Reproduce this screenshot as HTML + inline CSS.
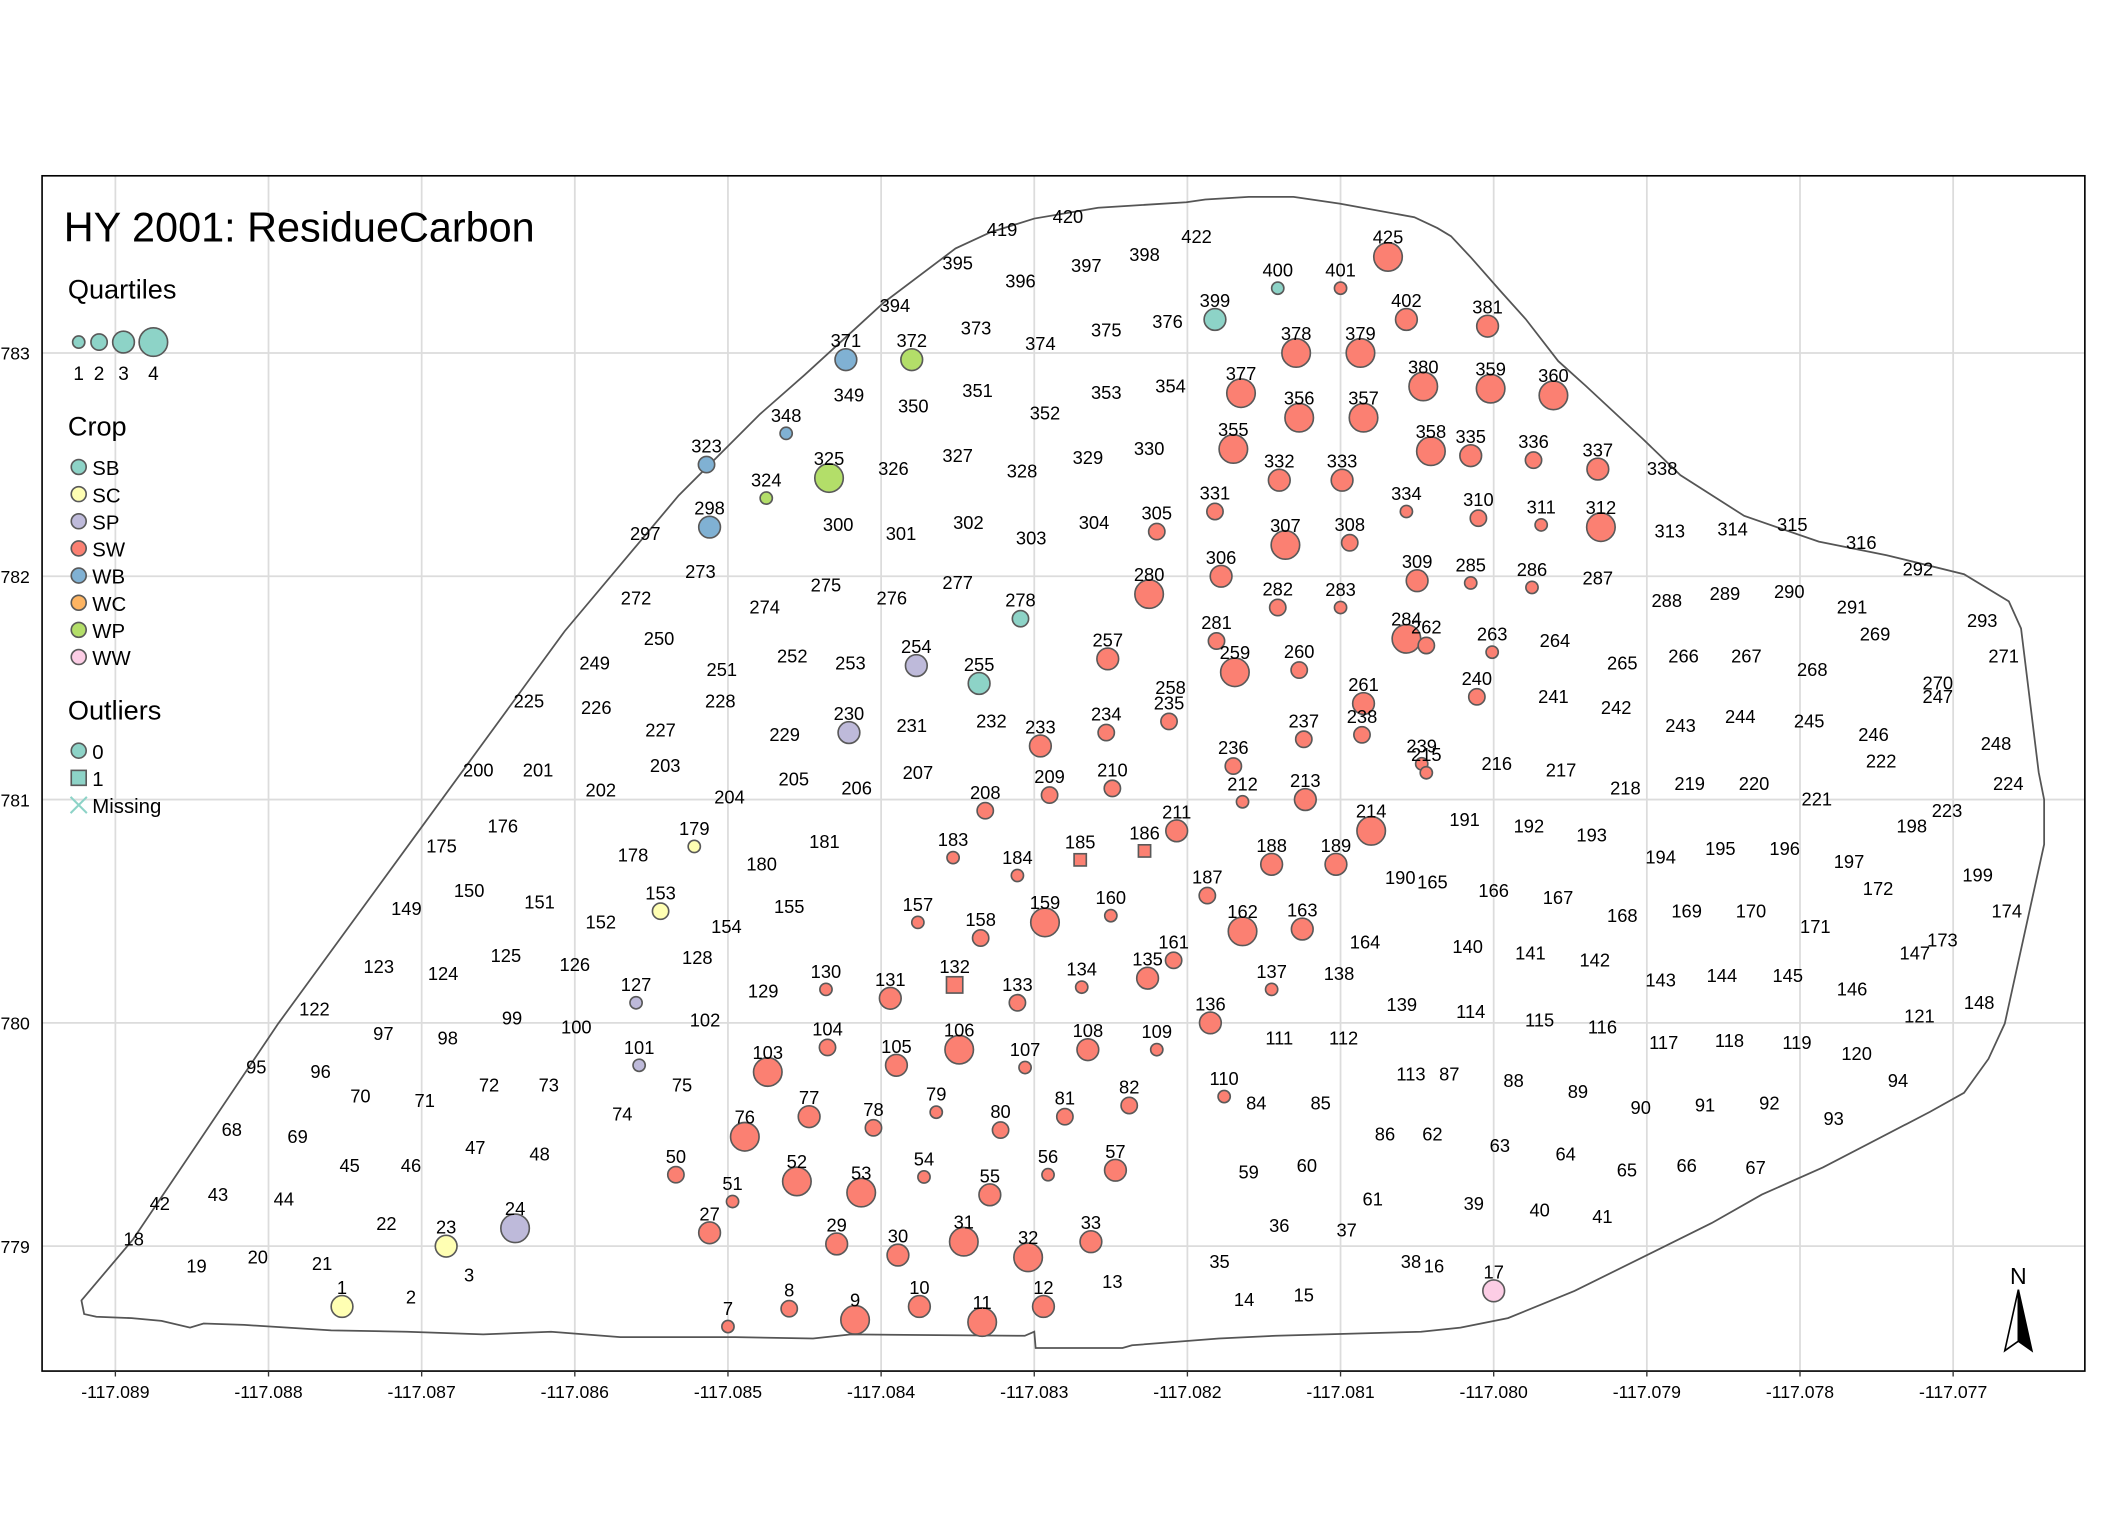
<!DOCTYPE html>
<html><head><meta charset="utf-8"><style>
html,body{margin:0;padding:0;background:#fff}
svg{display:block}
text{font-family:"Liberation Sans",Arial,sans-serif;fill:#000}
</style></head><body>
<svg id="map" xmlns="http://www.w3.org/2000/svg" width="2112" height="1536" viewBox="0 0 1556 1131.5" preserveAspectRatio="none">
<rect x="0" y="0" width="1556" height="1131.5" fill="#fff"/>
<g id="grid"></g>
<path fill="none" stroke="#555" stroke-width="1.3" d="M60,958 L98,913 L205,754 L305,617 L416,465 L500,365 L560,305 L593,276 L651,223 L704,183 L730,171 L762,161 L809,153 L874,149 L888,147 L920,145 L953,145 L987,150 L1042,160 L1059,168 L1069,174 L1084,190 L1106,215 L1124,235 L1148,266 L1168,284 L1210,323 L1238,350 L1285,380 L1340,399 L1390,409 L1447,423 L1480,443 L1489,463 L1502,569 L1506,589 L1506,622 L1477,754 L1465,780 L1447,805 L1422,819 L1343,860 L1298,880 L1261,901 L1160,951 L1111,971 L1076,978 L1047,981 L940,984 L898,986 L834,991 L827,993 L763,993 L762,981 L755,984 L627,983 L599,986 L542,985 L457,985 L406,981 L356,983 L300,981 L244,980 L180,976 L150,975 L140,978 L119,973 L97,971 L71,970 L62,968 Z"/>
<g id="points"></g>
<rect x="31" y="129.5" width="1505" height="880.5" fill="none" stroke="#000" stroke-width="1.2"/>
<g id="axes"></g>
<text x="47" y="178" font-size="30.5">HY 2001: ResidueCarbon</text>
<g>
<text x="50" y="220" font-size="20">Quartiles</text>
<circle cx="58" cy="252" r="4.5" fill="#8DD3C7" stroke="#595959" stroke-width="1.2"/>
<circle cx="73" cy="252" r="6" fill="#8DD3C7" stroke="#595959" stroke-width="1.2"/>
<circle cx="91" cy="252" r="8" fill="#8DD3C7" stroke="#595959" stroke-width="1.2"/>
<circle cx="113" cy="252" r="10.5" fill="#8DD3C7" stroke="#595959" stroke-width="1.2"/>
<text x="58" y="280" font-size="14" text-anchor="middle">1</text>
<text x="73" y="280" font-size="14" text-anchor="middle">2</text>
<text x="91" y="280" font-size="14" text-anchor="middle">3</text>
<text x="113" y="280" font-size="14" text-anchor="middle">4</text>
<text x="50" y="321" font-size="20">Crop</text>
<g id="cropLegend"></g>
<text x="50" y="530" font-size="20">Outliers</text>
<circle cx="58" cy="553" r="5.5" fill="#8DD3C7" stroke="#595959" stroke-width="1.2"/>
<text x="68" y="559" font-size="15">0</text>
<rect x="52.5" y="567.5" width="11" height="11" fill="#8DD3C7" stroke="#595959" stroke-width="1.2"/>
<text x="68" y="579" font-size="15">1</text>
<path d="M52,587 L64,599 M64,587 L52,599" stroke="#8DD3C7" stroke-width="1.5"/>
<text x="68" y="599" font-size="15">Missing</text>
</g>
<g>
<text x="1487" y="946" font-size="17" text-anchor="middle">N</text>
<path d="M1487,950 L1477,995 L1487,988 Z" fill="#fff" stroke="#000" stroke-width="1.2"/>
<path d="M1487,950 L1497,995 L1487,988 Z" fill="#000" stroke="#000" stroke-width="1.2"/>
</g>
</svg>
<script>
// Longitude offsets in thousandths of a degree from -117.089; latitude offsets in thousandths from 33.779
const lonTicks = ["-117.089","-117.088","-117.087","-117.086","-117.085","-117.084","-117.083","-117.082","-117.081","-117.080","-117.079","-117.078","-117.077"];
const lonTickVals = [0,1,2,3,4,5,6,7,8,9,10,11,12];
const latTicks = ["33.779","33.780","33.781","33.782","33.783"];
const latTickVals = [0,1,2,3,4];
const cropNames = ["SB","SC","SP","SW","WB","WC","WP","WW"];
const cropColors = ["#8DD3C7","#FFFFB3","#BEBADA","#FB8072","#80B1D3","#FDB462","#B3DE69","#FCCDE5"];
// points without a symbol (label only)
const lblIds = [419,420,395,396,397,398,422,394,373,374,375,376,349,350,351,352,353,354,338,326,327,328,329,330,300,301,302,303,304,313,314,315,316,297,292,287,273,275,276,277,272,274,288,289,290,291,293,269,271,250,264,265,266,267,268,249,251,252,253,241,242,270,247,225,226,228,258,227,229,231,232,243,244,245,246,222,248,216,217,200,201,203,202,204,205,206,207,218,219,220,221,224,191,192,193,194,195,196,197,198,223,176,175,178,180,181,190,165,166,167,168,169,170,171,172,199,174,149,150,151,152,154,155,164,140,141,142,143,144,145,146,147,173,148,123,124,125,126,128,129,138,139,114,115,116,117,118,119,120,121,122,97,98,99,100,102,111,112,95,96,70,71,72,73,75,84,85,113,87,88,89,90,91,92,93,94,74,68,69,45,46,47,48,59,60,86,62,63,64,65,66,67,42,43,44,61,39,40,41,22,35,36,37,18,19,20,21,3,38,16,13,14,15,2];
const lblLon = [5.79,6.22,5.50,5.91,6.34,6.72,7.06,5.09,5.62,6.04,6.47,6.87,4.79,5.21,5.63,6.07,6.47,6.89,10.10,5.08,5.50,5.92,6.35,6.75,4.72,5.13,5.57,5.98,6.39,10.15,10.56,10.95,11.40,3.46,11.77,9.68,3.82,4.64,5.07,5.50,3.40,4.24,10.13,10.51,10.93,11.34,12.19,11.49,12.33,3.55,9.40,9.84,10.24,10.65,11.08,3.13,3.96,4.42,4.80,9.39,9.80,11.90,11.90,2.70,3.14,3.95,6.89,3.56,4.37,5.20,5.72,10.22,10.61,11.06,11.48,11.53,12.28,9.02,9.44,2.37,2.76,3.59,3.17,4.01,4.43,4.84,5.24,9.86,10.28,10.70,11.11,12.36,8.81,9.23,9.64,10.09,10.48,10.90,11.32,11.73,11.96,2.53,2.13,3.38,4.22,4.63,8.39,8.60,9.00,9.42,9.84,10.26,10.68,11.10,11.51,12.16,12.35,1.90,2.31,2.77,3.17,3.99,4.40,8.16,8.83,9.24,9.66,10.09,10.49,10.92,11.34,11.75,11.93,12.17,1.72,2.14,2.55,3.00,3.80,4.23,7.99,8.40,8.85,9.30,9.71,10.11,10.54,10.98,11.37,11.78,1.30,1.75,2.17,2.59,3.01,3.85,7.60,8.02,0.92,1.34,1.60,2.02,2.44,2.83,3.70,7.45,7.87,8.46,8.71,9.13,9.55,9.96,10.38,10.80,11.22,11.64,3.31,0.76,1.19,1.53,1.93,2.35,2.77,7.40,7.78,8.29,8.60,9.04,9.47,9.87,10.26,10.71,0.29,0.67,1.10,8.21,8.87,9.30,9.71,1.77,7.21,7.60,8.04,0.12,0.53,0.93,1.35,2.31,8.46,8.61,6.51,7.37,7.76,1.93];
const lblLat = [4.55,4.61,4.40,4.32,4.39,4.44,4.52,4.21,4.11,4.04,4.10,4.14,3.81,3.76,3.83,3.73,3.82,3.85,3.48,3.48,3.54,3.47,3.53,3.57,3.23,3.19,3.24,3.17,3.24,3.20,3.21,3.23,3.15,3.19,3.03,2.99,3.02,2.96,2.90,2.97,2.90,2.86,2.89,2.92,2.93,2.86,2.80,2.74,2.64,2.72,2.71,2.61,2.64,2.64,2.58,2.61,2.58,2.64,2.61,2.46,2.41,2.52,2.46,2.44,2.41,2.44,2.50,2.31,2.29,2.33,2.35,2.33,2.37,2.35,2.29,2.17,2.25,2.16,2.13,2.13,2.13,2.15,2.04,2.01,2.09,2.05,2.12,2.05,2.07,2.07,2.00,2.07,1.91,1.88,1.84,1.74,1.78,1.78,1.72,1.88,1.95,1.88,1.79,1.75,1.71,1.81,1.65,1.63,1.59,1.56,1.48,1.50,1.50,1.43,1.60,1.66,1.50,1.51,1.59,1.54,1.45,1.43,1.52,1.36,1.34,1.31,1.28,1.19,1.21,1.21,1.15,1.31,1.37,1.09,1.25,1.22,1.30,1.26,1.29,1.14,1.22,1.08,1.05,1.01,0.98,0.91,0.92,0.91,0.86,1.03,1.06,0.95,0.93,1.02,0.98,1.01,0.93,0.93,0.80,0.78,0.67,0.65,0.72,0.72,0.72,0.64,0.64,0.77,0.77,0.74,0.69,0.62,0.63,0.64,0.57,0.74,0.59,0.52,0.49,0.36,0.36,0.44,0.41,0.33,0.36,0.50,0.50,0.45,0.41,0.34,0.36,0.35,0.19,0.23,0.21,0.21,0.19,0.16,0.13,0.10,-0.07,0.09,0.07,0.03,-0.09,-0.05,-0.08,-0.13,-0.07,-0.09,-0.16,-0.24,-0.22,-0.23];
// points with symbols
const ptIds = [425,400,401,399,402,381,371,372,378,379,380,359,360,377,356,357,348,355,358,335,336,337,323,325,324,332,333,331,334,310,311,312,298,305,307,308,306,309,285,286,278,280,282,283,281,284,262,263,254,255,257,259,260,240,235,261,238,230,233,234,237,236,239,215,208,209,210,212,213,211,214,179,183,184,185,186,188,189,153,157,158,159,160,187,162,163,127,130,131,132,133,134,135,161,136,137,101,103,104,105,106,107,108,109,76,77,78,79,80,81,82,110,50,51,52,53,54,55,56,57,23,24,27,29,30,31,32,33,17,1,7,8,9,10,11,12];
const ptLon = [8.31,7.59,8.00,7.18,8.43,8.96,4.77,5.20,7.71,8.13,8.54,8.98,9.39,7.35,7.73,8.15,4.38,7.30,8.59,8.85,9.26,9.68,3.86,4.66,4.25,7.60,8.01,7.18,8.43,8.90,9.31,9.70,3.88,6.80,7.64,8.06,7.22,8.50,8.85,9.25,5.91,6.75,7.59,8.00,7.19,8.43,8.56,8.99,5.23,5.64,6.48,7.31,7.73,8.89,6.88,8.15,8.14,4.79,6.04,6.47,7.76,7.30,8.53,8.56,5.68,6.10,6.51,7.36,7.77,6.93,8.20,3.78,5.47,5.89,6.30,6.72,7.55,7.97,3.56,5.24,5.65,6.07,6.50,7.13,7.36,7.75,3.40,4.64,5.06,5.48,5.89,6.31,6.74,6.91,7.15,7.55,3.42,4.26,4.65,5.10,5.51,5.94,6.35,6.80,4.11,4.53,4.95,5.36,5.78,6.20,6.62,7.24,3.66,4.03,4.45,4.87,5.28,5.71,6.09,6.53,2.16,2.61,3.88,4.71,5.11,5.54,5.96,6.37,9.00,1.48,4.00,4.40,4.83,5.25,5.66,6.06];
const ptLat = [4.43,4.29,4.29,4.15,4.15,4.12,3.97,3.97,4.00,4.00,3.85,3.84,3.81,3.82,3.71,3.71,3.64,3.57,3.56,3.54,3.52,3.48,3.50,3.44,3.35,3.43,3.43,3.29,3.29,3.26,3.23,3.22,3.22,3.20,3.14,3.15,3.00,2.98,2.97,2.95,2.81,2.92,2.86,2.86,2.71,2.72,2.69,2.66,2.60,2.52,2.63,2.57,2.58,2.46,2.35,2.43,2.29,2.30,2.24,2.30,2.27,2.15,2.16,2.12,1.95,2.02,2.05,1.99,2.00,1.86,1.86,1.79,1.74,1.66,1.73,1.77,1.71,1.71,1.50,1.45,1.38,1.45,1.48,1.57,1.41,1.42,1.09,1.15,1.11,1.17,1.09,1.16,1.20,1.28,1.00,1.15,0.81,0.78,0.89,0.81,0.88,0.80,0.88,0.88,0.49,0.58,0.53,0.60,0.52,0.58,0.63,0.67,0.32,0.20,0.29,0.24,0.31,0.23,0.32,0.34,0.00,0.08,0.06,0.01,-0.04,0.02,-0.05,0.02,-0.20,-0.27,-0.36,-0.28,-0.33,-0.27,-0.34,-0.27];
const ptQuart = [4,1,1,3,3,3,3,3,4,4,4,4,4,4,4,4,1,4,4,3,2,3,2,4,1,3,3,2,1,2,1,4,3,2,4,2,3,3,1,1,2,4,2,1,2,4,2,1,3,3,3,4,2,2,2,3,2,3,3,2,2,2,1,1,2,2,2,1,3,3,4,1,1,1,1,1,3,3,2,1,2,4,1,2,4,3,1,1,3,2,2,1,3,2,3,1,1,4,2,3,4,1,3,1,4,3,2,1,2,2,2,1,2,1,4,4,1,3,1,3,3,4,3,3,3,4,4,3,3,3,1,2,4,3,4,3];
const ptCrop = ["SW","SB","SW","SB","SW","SW","WB","WP","SW","SW","SW","SW","SW","SW","SW","SW","WB","SW","SW","SW","SW","SW","WB","WP","WP","SW","SW","SW","SW","SW","SW","SW","WB","SW","SW","SW","SW","SW","SW","SW","SB","SW","SW","SW","SW","SW","SW","SW","SP","SB","SW","SW","SW","SW","SW","SW","SW","SP","SW","SW","SW","SW","SW","SW","SW","SW","SW","SW","SW","SW","SW","SC","SW","SW","SW","SW","SW","SW","SC","SW","SW","SW","SW","SW","SW","SW","SP","SW","SW","SW","SW","SW","SW","SW","SW","SW","SP","SW","SW","SW","SW","SW","SW","SW","SW","SW","SW","SW","SW","SW","SW","SW","SW","SW","SW","SW","SW","SW","SW","SW","SC","SP","SW","SW","SW","SW","SW","SW","WW","SC","SW","SW","SW","SW","SW","SW"];
const outlierIds = [132,185,186];
const radii = [0,4.5,6,8,10.5];

const NS = "http://www.w3.org/2000/svg";
const X0 = 85, XS = 112.83, Y0 = 918, YS = 164.5;
function xScale(v){ return X0 + v * XS; }
function yScale(v){ return Y0 - v * YS; }
function mk(tag, attrs, parent){
  const el = document.createElementNS(NS, tag);
  for (const k in attrs) el.setAttribute(k, attrs[k]);
  parent.appendChild(el);
  return el;
}
const grid = document.getElementById('grid');
const axes = document.getElementById('axes');
lonTickVals.forEach((v,i)=>{
  const x = xScale(v);
  const gl = mk('line',{x1:x,x2:x,y1:130,y2:1010,stroke:'#dcdcdc','stroke-width':1.3},grid);
  
  
  const tk = mk('line',{x1:x,x2:x,y1:1010,y2:1014,stroke:'#333','stroke-width':1},axes);
  
  
  const t = mk('text',{x:x,y:1030,'font-size':13,'text-anchor':'middle'},axes);
  t.textContent = lonTicks[i];
  
  
});
latTickVals.forEach((v,i)=>{
  const y = yScale(v);
  const gl = mk('line',{x1:31,x2:1536,y1:y,y2:y,stroke:'#dcdcdc','stroke-width':1.3},grid);
  
  
  const t = mk('text',{x:22,y:y+5,'font-size':13,'text-anchor':'end'},axes);
  t.textContent = latTicks[i];
  
  
});
const cl = document.getElementById('cropLegend');
cropNames.forEach((c,i)=>{
  const y = 344 + i*20;
  const ci = mk('circle',{cx:58,cy:y,r:5.5,fill:cropColors[i],stroke:'#595959','stroke-width':1.2},cl);
  
  
  const t = mk('text',{x:68,y:y+6,'font-size':15},cl);
  t.textContent = c;
  
  
});
const pts = document.getElementById('points');
lblIds.forEach((id,i)=>{
  const t = mk('text',{x:xScale(lblLon[i]),y:yScale(lblLat[i])+4.5,'font-size':13.5,'text-anchor':'middle'},pts);
  t.textContent = id;
  
  
});
ptIds.forEach((id,i)=>{
  const cx = xScale(ptLon[i]), cy = yScale(ptLat[i]);
  const r = radii[ptQuart[i]];
  const col = cropColors[cropNames.indexOf(ptCrop[i])];
  let m;
  if (outlierIds.indexOf(id) >= 0) {
    m = mk('rect',{x:cx-r,y:cy-r,width:2*r,height:2*r,fill:col,stroke:'#595959','stroke-width':1.2},pts);
  } else {
    m = mk('circle',{cx:cx,cy:cy,r:r,fill:col,stroke:'#595959','stroke-width':1.2},pts);
  }
  
  
  const t = mk('text',{x:cx,y:cy-13-(r-4.5)*0.2+4.5,'font-size':13.5,'text-anchor':'middle'},pts);
  t.textContent = id;
  
  
});
</script>
</body></html>
